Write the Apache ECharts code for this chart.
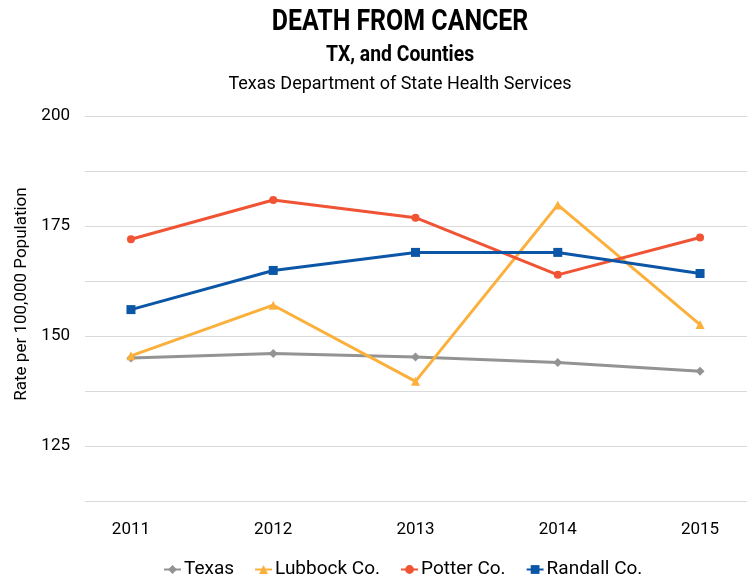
<!DOCTYPE html>
<html lang="en" style="height: 100%">

<head>
  <meta charset="utf-8">
</head>

<body style="height: 100%; margin: 0">
  <div id="container" style="width: 752px; height: 578px"></div>

  <script type="text/javascript" src="https://cdn.jsdelivr.net/npm/echarts@6/dist/echarts.min.js"></script>

  <script type="text/javascript">
    // data
    var years = [2011, 2012, 2013, 2014, 2015];
    var texas = [145, 146, 145.2, 144, 142];
    var lubbock = [145.5, 157, 139.7, 179.8, 152.6];
    var potter = [172, 180.9, 176.9, 163.9, 172.4];
    var randall = [156, 164.9, 169, 169, 164.2];
    var yTicks = [125, 150, 175, 200];

    var dom = document.getElementById('container');
    var myChart = echarts.init(dom, null, { renderer: 'canvas' });
    var font = 'Roboto';

    function pairs(vals) {
      return vals.map(function (v, i) { return [years[i], v]; });
    }

    function line(name, vals, color, symbol, size) {
      return {
        name: name,
        type: 'line',
        data: pairs(vals),
        symbol: symbol,
        symbolSize: size,
        lineStyle: { color: color, width: 3 },
        itemStyle: { color: color },
        animation: false
      };
    }

    var option = {
      textStyle: { fontFamily: font },
      graphic: [
        {
          type: 'text', x: 400, y: 23, scaleX: 0.86,
          style: { text: 'DEATH FROM CANCER', font: 'bold 29px Roboto', fill: '#000', align: 'center', verticalAlign: 'middle' }
        },
        {
          type: 'text', x: 400, y: 55, scaleX: 0.88,
          style: { text: 'TX, and Counties', font: 'bold 22px Roboto', fill: '#000', align: 'center', verticalAlign: 'middle' }
        },
        {
          type: 'text', x: 400, y: 84,
          style: { text: 'Texas Department of State Health Services', font: '18px Roboto', fill: '#000', align: 'center', verticalAlign: 'middle' }
        },
        {
          // y axis title
          type: 'text', x: 22, y: 294, rotation: Math.PI / 2,
          style: { text: 'Rate per 100,000 Population', fontSize: 17, fontFamily: 'Roboto', fill: '#000', align: 'center', verticalAlign: 'middle' }
        }
      ],
      grid: { left: 85, right: 5, top: 116, bottom: 77 },
      legend: {
        left: 158,
        top: 555,
        itemWidth: 17,
        itemHeight: 11,
        itemGap: 20,
        textStyle: { fontSize: 19, color: '#000', fontFamily: font, padding: [0, 0, 0, -2] },
        data: ['Texas', 'Lubbock Co.', 'Potter Co.', 'Randall Co.']
      },
      xAxis: {
        type: 'value',
        min: 2010.677,
        max: 2015.33,
        splitLine: { show: false },
        axisLine: { show: false },
        axisTick: { show: false },
        axisLabel: {
          customValues: years,
          margin: 20,
          fontSize: 17,
          color: '#000',
          formatter: function (v) { return String(v); }
        }
      },
      yAxis: {
        type: 'value',
        min: 112.5,
        max: 200,
        interval: 12.5,
        axisLine: { show: false },
        axisTick: { show: false },
        splitLine: { lineStyle: { color: '#d9d9d9', width: 1 } },
        axisLabel: {
          margin: 15,
          fontSize: 17,
          color: '#000',
          formatter: function (v) { return yTicks.indexOf(v) >= 0 ? String(v) : ''; }
        }
      },
      series: [
        line('Texas', texas, '#939393', 'diamond', 9),
        line('Lubbock Co.', lubbock, '#fbb03b', 'triangle', 9),
        line('Potter Co.', potter, '#f05434', 'circle', 8),
        line('Randall Co.', randall, '#0b56a6', 'rect', 9)
      ]
    };

    myChart.setOption(option);
    window.addEventListener('resize', myChart.resize);
  </script>
</body>

</html>
